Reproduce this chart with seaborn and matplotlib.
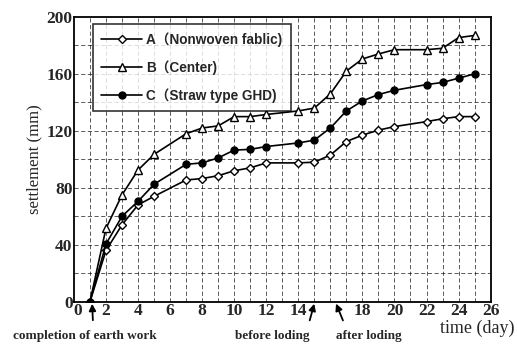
import numpy as np
import pandas as pd
import matplotlib
matplotlib.use("Agg")
import matplotlib.pyplot as plt
import matplotlib.transforms as mtrans
import seaborn as sns
from matplotlib.ticker import MultipleLocator

# measurement days
days_early = [1, 2, 3, 4, 5]
days_late = [7, 8, 9, 10, 11, 12, 14, 15, 16, 17, 18, 19, 20, 22, 23, 24, 25]
days = days_early + days_late

# settlement (mm)
a_vals = [0, 36, 54, 68, 74, 85.5, 86.5, 88.5, 92, 94, 97.5, 97.5, 98, 103,
          112.5, 117, 120.5, 123, 126.5, 128.5, 130, 130]
b_vals = [0, 51.5, 75, 92.5, 103.5, 118, 122, 123.5, 130, 130, 131.5, 134,
          136, 146, 162, 170.5, 174, 177, 177, 178, 185.5, 187]
c_vals = [0, 40.5, 60, 70.5, 82.5, 96.5, 97.5, 101, 106.5, 107, 109, 111.5,
          113.5, 122, 134, 141, 145.5, 148.5, 152.5, 154, 157, 160]

labels = ["A\uff08Nonwoven fablic)", "B\uff08Center)", "C\uff08Straw type GHD)"]
xticks = [0, 2, 4, 6, 8, 10, 12, 14, 16, 18, 20, 22, 24, 26]
xtick_labels = ["0", "2", "4", "6", "8", "10", "12", "14", "", "18", "20", "22", "24", "26"]

df = pd.DataFrame({
    "day": days * 3,
    "settlement": a_vals + b_vals + c_vals,
    "series": [labels[0]] * len(days) + [labels[1]] * len(days) + [labels[2]] * len(days),
})

sns.set_style("white")
plt.rcParams["font.family"] = ["Liberation Serif", "DejaVu Serif"]

fig = plt.figure(figsize=(5.17, 3.46), dpi=100)
ax = fig.add_axes([0.143, 0.128, 0.806, 0.823])

# dashed scanned-style grid
for d in range(1, 26):
    ax.axvline(d, color="black", lw=0.6, ls=(0, (5, 3)), alpha=0.75, zorder=0)
for s in range(20, 200, 20):
    ax.axhline(s, color="black", lw=0.6, ls=(0, (5, 3)), alpha=0.75, zorder=0)

styles = [("D", "white", 4.5), ("^", "white", 5.5), ("o", "black", 5)]
for lab, (mk, fc, ms) in zip(labels, styles):
    sub = df[df.series == lab]
    sns.lineplot(data=sub, x="day", y="settlement", ax=ax, color="black",
                 lw=1.2, marker=mk, markersize=ms, markerfacecolor=fc,
                 markeredgecolor="black", markeredgewidth=1.0, label=lab,
                 zorder=3)

ax.set_xlim(0, 26)
ax.set_ylim(0, 200)
ax.set_xticks(xticks)
ax.set_xticklabels(xtick_labels)
ax.yaxis.set_major_locator(MultipleLocator(40))
ax.yaxis.set_minor_locator(MultipleLocator(5))
ax.xaxis.set_minor_locator(MultipleLocator(1))
ax.tick_params(which="major", direction="in", length=4, width=1,
               labelsize=12.5, pad=1)
ax.tick_params(which="minor", direction="in", length=2, width=0.8)
for t in ax.get_xticklabels() + ax.get_yticklabels():
    t.set_fontweight("bold")
for sp in ax.spines.values():
    sp.set_linewidth(1.3)
    sp.set_color("black")

# nudge the two zeros apart at the origin, like the original
x0lab = ax.get_xticklabels()[0]
x0lab.set_transform(x0lab.get_transform() + mtrans.ScaledTranslation(4 / 100, 0, fig.dpi_scale_trans))
y0lab = ax.get_yticklabels()[0]
y0lab.set_transform(y0lab.get_transform() + mtrans.ScaledTranslation(0, 3 / 100, fig.dpi_scale_trans))

ax.set_xlabel("")
ax.set_ylabel("settlement (mm)", fontsize=12, labelpad=3)

leg = ax.legend(loc="upper left", bbox_to_anchor=(0.03, 1.0), frameon=True,
                fancybox=False, edgecolor="black", handlelength=3,
                borderpad=0.6, labelspacing=1.0, handletextpad=0.3,
                prop={"family": ["Liberation Sans", "Noto Sans CJK JP"],
                      "size": 9.8, "weight": "bold"})
leg.get_frame().set_linewidth(1.2)

fig.text(0.923, 0.052, "time (day)", fontsize=13, ha="center", va="center")
fig.text(0.165, 0.029, "completion of earth work", fontsize=9.5,
         fontweight="bold", ha="center", va="center")
fig.text(0.526, 0.029, "before loding", fontsize=9.5, fontweight="bold",
         ha="center", va="center")
fig.text(0.714, 0.029, "after loding", fontsize=9.5, fontweight="bold",
         ha="center", va="center")

arrows = [((93, 323), (92, 301)), ((309, 323), (315, 301)), ((344, 323), (335, 301))]
for (x0, y0), (x1, y1) in arrows:
    fig.add_artist(matplotlib.patches.FancyArrowPatch(
        (x0 / 517, 1 - y0 / 346), (x1 / 517, 1 - y1 / 346),
        transform=fig.transFigure, arrowstyle="-|>,head_length=4,head_width=2",
        color="black", lw=1.3))

fig.savefig("out.png", dpi=100)
